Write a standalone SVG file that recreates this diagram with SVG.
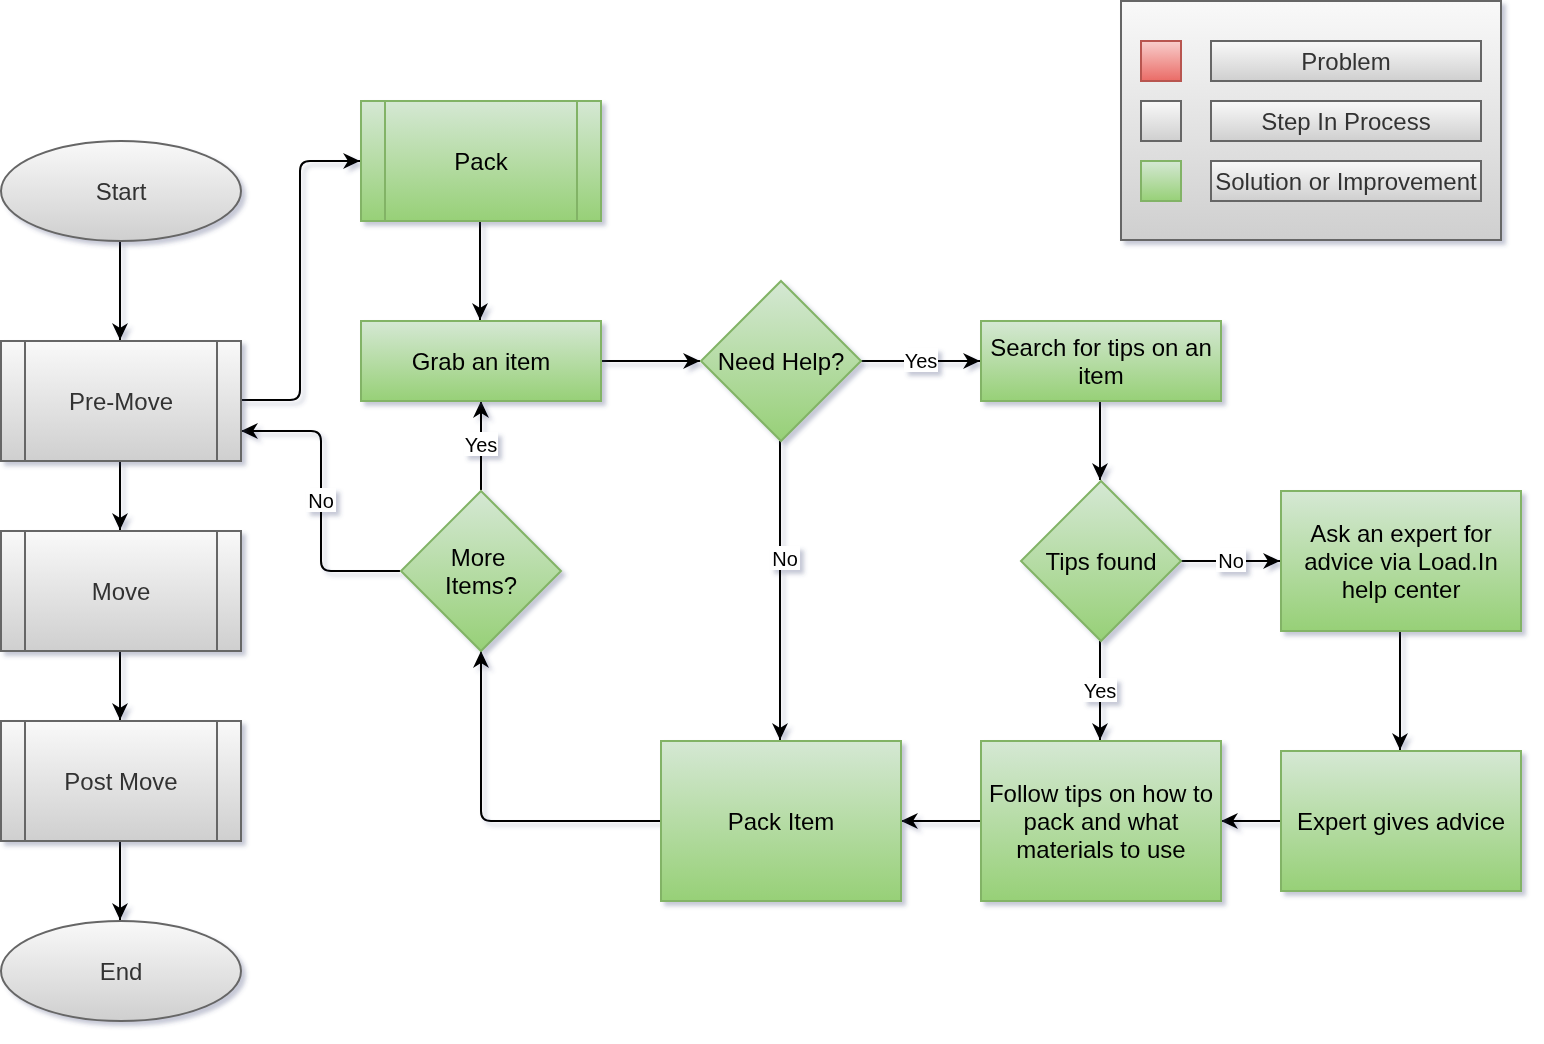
<svg xmlns="http://www.w3.org/2000/svg" width="1544" height="1044" viewBox="0 0 1544 1044">
<defs>
<linearGradient id="gGray" x1="0" y1="0" x2="0" y2="1"><stop offset="0" stop-color="#f9f9f9"/><stop offset="1" stop-color="#cfcfcf"/></linearGradient>
<linearGradient id="gGreen" x1="0" y1="0" x2="0" y2="1"><stop offset="0" stop-color="#d5e8d4"/><stop offset="1" stop-color="#97d077"/></linearGradient>
<linearGradient id="gRed" x1="0" y1="0" x2="0" y2="1"><stop offset="0" stop-color="#f8cecc"/><stop offset="1" stop-color="#ea6b66"/></linearGradient>
<filter id="sh" x="-10%" y="-10%" width="130%" height="130%"><feDropShadow dx="4" dy="4" stdDeviation="2" flood-color="#3d4574" flood-opacity="0.3"/></filter>
<marker id="arr" markerUnits="userSpaceOnUse" markerWidth="18" markerHeight="16" refX="17" refY="8" orient="auto"><path d="M0,0 L17,8 L0,16 L5,8 z" fill="#000"/></marker>
</defs>
<style>
.gray{fill:url(#gGray);stroke:#666666;stroke-width:2}
.green{fill:url(#gGreen);stroke:#82b366;stroke-width:2}
.red{fill:url(#gRed);stroke:#b85450;stroke-width:2}
.sep{fill:none;stroke-width:2}
.t{font-family:"Liberation Sans",Arial,sans-serif;font-size:24px;text-anchor:middle;fill:#000}
.tg{fill:#333333}
.e{fill:none;stroke:#000;stroke-width:2;marker-end:url(#arr)}
.lb{fill:#fff}
.lt{font-family:"Liberation Sans",Arial,sans-serif;font-size:20px;text-anchor:middle;fill:#000}
</style>

<g id="legend" filter="url(#sh)">
<rect x="1121" y="1" width="380" height="239" class="gray"/>
<rect x="1141" y="41" width="40" height="40" class="red"/>
<rect x="1141" y="101" width="40" height="40" class="gray"/>
<rect x="1141" y="161" width="40" height="40" class="green"/>
<rect x="1211" y="41" width="270" height="40" class="gray"/>
<rect x="1211" y="101" width="270" height="40" class="gray"/>
<rect x="1211" y="161" width="270" height="40" class="gray"/>
<text x="1346" y="70" class="t tg">Problem</text>
<text x="1346" y="130" class="t tg">Step In Process</text>
<text x="1346" y="190" class="t tg">Solution or Improvement</text>
</g>

<g id="connectors" filter="url(#sh)">
<path class="e" d="M120,241 L120,340"/>
<path class="e" d="M241,400 L290,400 Q300,400 300,390 L300,171 Q300,161 310,161 L360,161"/>
<path class="e" d="M480,221 L480,320"/>
<path class="e" d="M601,361 L700,361"/>
<path class="e" d="M861,361 L980,361"/>
<path class="e" d="M1100,401 L1100,480"/>
<path class="e" d="M1181,561 L1280,561"/>
<path class="e" d="M1400,631 L1400,750"/>
<path class="e" d="M1280,821 L1221,821"/>
<path class="e" d="M1100,641 L1100,740"/>
<path class="e" d="M780,441 L780,740"/>
<path class="e" d="M980,821 L901,821"/>
<path class="e" d="M660,821 L491,821 Q481,821 481,811 L481,651"/>
<path class="e" d="M481,490 L481,401"/>
<path class="e" d="M400,571 L331,571 Q321,571 321,561 L321,441 Q321,431 311,431 L241,431"/>
<path class="e" d="M120,461 L120,530"/>
<path class="e" d="M120,651 L120,720"/>
<path class="e" d="M120,841 L120,920"/>
<rect x="904" y="348" width="34" height="24" class="lb"/>
<text x="921" y="368" class="lt">Yes</text>
<rect x="1216" y="548" width="30" height="24" class="lb"/>
<text x="1231" y="568" class="lt">No</text>
<rect x="1083" y="678" width="34" height="24" class="lb"/>
<text x="1100" y="698" class="lt">Yes</text>
<rect x="770" y="546" width="30" height="24" class="lb"/>
<text x="785" y="566" class="lt">No</text>
<rect x="464" y="432" width="34" height="24" class="lb"/>
<text x="481" y="452" class="lt">Yes</text>
<rect x="306" y="488" width="30" height="24" class="lb"/>
<text x="321" y="508" class="lt">No</text>
</g>

<g id="start" filter="url(#sh)">
<ellipse cx="121" cy="191" rx="120" ry="50" class="gray"/>
<text x="121" y="200" class="t tg">Start</text>
</g>
<g id="premove" filter="url(#sh)">
<rect x="1" y="341" width="240" height="120" class="gray"/>
<path d="M25,341 L25,461 M217,341 L217,461" class="sep" stroke="#666666"/>
<text x="121" y="410" class="t tg">Pre-Move</text>
</g>
<g id="move" filter="url(#sh)">
<rect x="1" y="531" width="240" height="120" class="gray"/>
<path d="M25,531 L25,651 M217,531 L217,651" class="sep" stroke="#666666"/>
<text x="121" y="600" class="t tg">Move</text>
</g>
<g id="postmove" filter="url(#sh)">
<rect x="1" y="721" width="240" height="120" class="gray"/>
<path d="M25,721 L25,841 M217,721 L217,841" class="sep" stroke="#666666"/>
<text x="121" y="790" class="t tg">Post Move</text>
</g>
<g id="end" filter="url(#sh)">
<ellipse cx="121" cy="971" rx="120" ry="50" class="gray"/>
<text x="121" y="980" class="t tg">End</text>
</g>
<g id="pack" filter="url(#sh)">
<rect x="361" y="101" width="240" height="120" class="green"/>
<path d="M385,101 L385,221 M577,101 L577,221" class="sep" stroke="#82b366"/>
<text x="481" y="170" class="t">Pack</text>
</g>
<g id="grab" filter="url(#sh)">
<rect x="361" y="321" width="240" height="80" class="green"/>
<text x="481" y="370" class="t">Grab an item</text>
</g>
<g id="needhelp" filter="url(#sh)">
<path d="M781,281 L861,361 L781,441 L701,361 Z" class="green"/>
<text x="781" y="370" class="t">Need Help?</text>
</g>
<g id="search" filter="url(#sh)">
<rect x="981" y="321" width="240" height="80" class="green"/>
<text x="1101" y="356" class="t">Search for tips on an</text>
<text x="1101" y="384" class="t">item</text>
</g>
<g id="tipsfound" filter="url(#sh)">
<path d="M1101,481 L1181,561 L1101,641 L1021,561 Z" class="green"/>
<text x="1101" y="570" class="t">Tips found</text>
</g>
<g id="askexpert" filter="url(#sh)">
<rect x="1281" y="491" width="240" height="140" class="green"/>
<text x="1401" y="542" class="t">Ask an expert for</text>
<text x="1401" y="570" class="t">advice via Load.In</text>
<text x="1401" y="598" class="t">help center</text>
</g>
<g id="expertadvice" filter="url(#sh)">
<rect x="1281" y="751" width="240" height="140" class="green"/>
<text x="1401" y="830" class="t">Expert gives advice</text>
</g>
<g id="followtips" filter="url(#sh)">
<rect x="981" y="741" width="240" height="160" class="green"/>
<text x="1101" y="802" class="t">Follow tips on how to</text>
<text x="1101" y="830" class="t">pack and what</text>
<text x="1101" y="858" class="t">materials to use</text>
</g>
<g id="packitem" filter="url(#sh)">
<rect x="661" y="741" width="240" height="160" class="green"/>
<text x="781" y="830" class="t">Pack Item</text>
</g>
<g id="moreitems" filter="url(#sh)">
<path d="M481,491 L561,571 L481,651 L401,571 Z" class="green"/>
<text x="478" y="566" class="t">More</text>
<text x="481" y="594" class="t">Items?</text>
</g>
</svg>
